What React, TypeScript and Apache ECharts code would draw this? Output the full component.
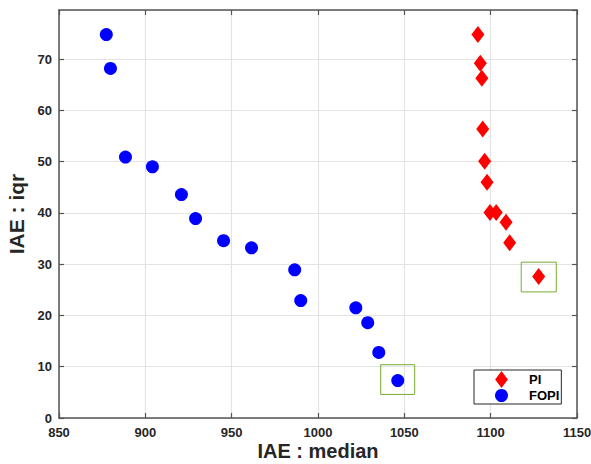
import React, { useEffect, useRef } from "react";
import * as echarts from "echarts";

const xTicks = [850, 900, 950, 1000, 1050, 1100, 1150];
const yTicks = [0, 10, 20, 30, 40, 50, 60, 70];

const piMedian = [1092.6, 1094.0, 1094.9, 1095.4, 1096.5, 1097.9, 1099.6, 1103.2, 1108.9, 1111.0, 1127.8];
const piIqr = [74.8, 69.2, 66.3, 56.4, 50.1, 46.0, 40.1, 40.1, 38.2, 34.2, 27.6];

const fopiMedian = [877.4, 879.8, 888.5, 904.1, 920.9, 929.1, 945.3, 961.5, 986.5, 990.0, 1021.9, 1028.8, 1035.2, 1046.2];
const fopiIqr = [74.8, 68.2, 50.9, 49.0, 43.6, 38.9, 34.6, 33.2, 28.9, 22.9, 21.5, 18.6, 12.8, 7.3];

// highlight boxes (data coordinates: [x1, y1, x2, y2])
const piBox = [1117.7, 30.4, 1138.0, 24.6];
const fopiBox = [1036.3, 10.4, 1056.0, 4.6];

const X_MIN = xTicks[0];
const X_MAX = xTicks[xTicks.length - 1];
const Y_MIN = yTicks[0];
const Y_MAX = 79.6;

const TXT = "#262626";
const AX = "#555555";
const GRIDC = "#e3e3e3";
const FONT = "'Liberation Sans', Arial, Helvetica, sans-serif";

export default function App() {
  const ref = useRef<HTMLDivElement>(null);
  useEffect(() => {
    if (!ref.current) return;
    const chart = echarts.init(ref.current, undefined, { renderer: "svg" });
    const boxStyle = { color: "rgba(0,0,0,0)", borderColor: "#77AC30", borderWidth: 1 };
    const mk = (b: number[]) => ({
      silent: true,
      itemStyle: boxStyle,
      data: [[{ coord: [b[0], b[1]] }, { coord: [b[2], b[3]] }]],
    });
    chart.setOption({
      animation: false,
      backgroundColor: "#ffffff",
      textStyle: { fontFamily: FONT },
      grid: { left: 59, right: 14, top: 10, bottom: 46, containLabel: false, outerBoundsMode: "none" },
      xAxis: [
        {
          type: "value",
          min: X_MIN,
          max: X_MAX,
          interval: 50,
          position: "bottom",
          name: "IAE : median",
          nameLocation: "middle",
          nameGap: 23,
          nameMoveOverlap: false,
          nameTextStyle: { fontSize: 20, fontWeight: "bold", color: TXT, fontFamily: FONT, lineHeight: 20 },
          axisLine: { show: true, onZero: false, lineStyle: { color: AX, width: 1.5 } },
          axisTick: { show: true, inside: true, length: 5, lineStyle: { color: AX, width: 1.2 } },
          axisLabel: { color: TXT, fontSize: 13, fontWeight: "bold", margin: 8, fontFamily: FONT, formatter: (v: number) => String(v) },
          splitLine: { show: true, lineStyle: { color: GRIDC, width: 1.2 } },
        },
        {
          type: "value",
          min: X_MIN,
          max: X_MAX,
          interval: 50,
          position: "top",
          axisLine: { show: true, onZero: false, lineStyle: { color: AX, width: 1.5 } },
          axisTick: { show: true, inside: true, length: 5, lineStyle: { color: AX, width: 1.2 } },
          axisLabel: { show: false },
          splitLine: { show: false },
        },
      ],
      yAxis: [
        {
          type: "value",
          min: Y_MIN,
          max: Y_MAX,
          interval: 10,
          position: "left",
          name: "IAE : iqr",
          nameLocation: "middle",
          nameGap: 24,
          nameTextStyle: { fontSize: 21, fontWeight: "bold", color: TXT, fontFamily: FONT, lineHeight: 21 },
          axisLine: { show: true, onZero: false, lineStyle: { color: AX, width: 1.5 } },
          axisTick: { show: true, inside: true, length: 5, lineStyle: { color: AX, width: 1.2 } },
          axisLabel: {
            color: TXT,
            fontSize: 13,
            fontWeight: "bold",
            margin: 7,
            fontFamily: FONT,
            showMaxLabel: false,
            formatter: (v: number) => (yTicks.includes(v) ? String(v) : ""),
          },
          splitLine: { show: true, lineStyle: { color: GRIDC, width: 1.2 } },
        },
        {
          type: "value",
          min: Y_MIN,
          max: Y_MAX,
          interval: 10,
          position: "right",
          axisLine: { show: true, onZero: false, lineStyle: { color: AX, width: 1.5 } },
          axisTick: { show: true, inside: true, length: 5, lineStyle: { color: AX, width: 1.2 } },
          axisLabel: { show: false },
          splitLine: { show: false },
        },
      ],
      legend: {
        left: 474,
        top: 370,
        orient: "vertical",
        padding: [1, 2, 2, 21],
        itemGap: 1,
        itemWidth: 13,
        itemHeight: 17,
        backgroundColor: "#ffffff",
        borderColor: "#262626",
        borderWidth: 1,
        borderRadius: 0,
        textStyle: { color: "#000000", fontSize: 13, fontWeight: "bold", fontFamily: FONT, padding: [0, 0, 0, 16] },
        data: [
          { name: "PI", icon: "path://M0,-1L0.75,0L0,1L-0.75,0Z" },
          { name: "FOPI", icon: "circle" },
        ],
      },
      series: [
        {
          name: "FOPI",
          type: "scatter",
          xAxisIndex: 0,
          yAxisIndex: 0,
          symbol: "circle",
          symbolSize: 13,
          itemStyle: { color: "#0000ff", opacity: 1 },
          data: fopiMedian.map((x, i) => [x, fopiIqr[i]]),
          markArea: mk(fopiBox),
          z: 3,
        },
        {
          name: "PI",
          type: "scatter",
          xAxisIndex: 0,
          yAxisIndex: 0,
          symbol: "diamond",
          symbolSize: [13, 17],
          itemStyle: { color: "#ff0000", opacity: 1 },
          data: piMedian.map((x, i) => [x, piIqr[i]]),
          markArea: mk(piBox),
          z: 3,
        },
      ],
    });
    return () => chart.dispose();
  }, []);
  return <div ref={ref} style={{ width: 591, height: 464, position: "absolute", left: 0, top: 0 }} />;
}
